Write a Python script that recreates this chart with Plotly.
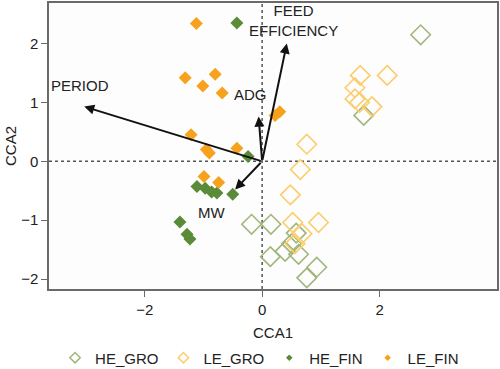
import plotly.graph_objects as go

# ---- data ----
he_gro_x = [2.70, 1.73, -0.18, 0.15, 0.14, 0.39, 0.50, 0.58, 0.62, 0.93, 0.76]
he_gro_y = [2.15, 0.78, -1.07, -1.07, -1.62, -1.53, -1.40, -1.22, -1.58, -1.80, -1.98]

le_gro_x = [1.67, 2.13, 1.58, 1.58, 1.66, 1.87, 0.76, 0.65, 0.48, 0.52, 0.96, 0.68, 0.56]
le_gro_y = [1.46, 1.46, 1.25, 1.06, 1.00, 0.93, 0.29, -0.14, -0.57, -1.04, -1.04, -1.23, -1.40]

he_fin_x = [-0.43, -0.24, -1.11, -0.97, -0.86, -0.77, -0.50, -1.40, -1.28, -1.23]
he_fin_y = [2.35, 0.08, -0.43, -0.46, -0.52, -0.54, -0.56, -1.03, -1.24, -1.32]

le_fin_x = [-1.12, -1.31, -0.80, -1.01, -0.68, -1.21, -0.95, -0.90, -0.43, 0.22, 0.30, -0.99, -0.74]
le_fin_y = [2.34, 1.42, 1.48, 1.28, 1.16, 0.45, 0.20, 0.14, 0.22, 0.78, 0.84, -0.26, -0.36]

arrow_names = ["PERIOD", "FEED<br>EFFICIENCY", "ADG", "MW"]
arrow_x = [-3.03, 0.42, -0.06, -0.46]
arrow_y = [0.93, 2.00, 0.76, -0.48]
label_x = [-3.10, 0.53, -0.20, -0.86]
label_y = [1.28, 2.39, 1.14, -0.87]

x_ticks = [-2, 0, 2]
y_ticks = [-2, -1, 0, 1, 2]

# ---- styles ----
C_HE_GRO = "#a2b67c"
C_LE_GRO = "#fbcd6c"
C_HE_FIN = "#5a8b39"
C_LE_FIN = "#f7a11c"
FONT = "Liberation Sans, Arial, sans-serif"
TXT = "#222222"

fig = go.Figure()

def add(xs, ys, name, color, size, open_):
    if open_:
        marker = dict(symbol="diamond-open", size=size, color=color, line=dict(color=color, width=1.6))
        lmarker = dict(symbol="diamond-open", size=8, color=color, line=dict(color=color, width=1.5))
    else:
        marker = dict(symbol="diamond", size=size, color=color, line=dict(width=0))
        lmarker = dict(symbol="diamond", size=5, color=color, line=dict(width=0))
    fig.add_trace(go.Scatter(x=xs, y=ys, mode="markers", name=name, marker=marker,
                             showlegend=False, hoverinfo="skip"))
    fig.add_trace(go.Scatter(x=[None], y=[None], mode="markers", name=name, marker=lmarker,
                             showlegend=True))

add(he_gro_x, he_gro_y, "HE_GRO", C_HE_GRO, 15, True)
add(le_gro_x, le_gro_y, "LE_GRO", C_LE_GRO, 15, True)
add(he_fin_x, he_fin_y, "HE_FIN", C_HE_FIN, 10, False)
add(le_fin_x, le_fin_y, "LE_FIN", C_LE_FIN, 10, False)

# dotted zero lines
fig.add_shape(type="line", xref="x", yref="paper", x0=0, x1=0, y0=0, y1=1,
              line=dict(color="#555555", width=1.5, dash="dot"), layer="below")
fig.add_shape(type="line", xref="paper", yref="y", x0=0, x1=1, y0=0, y1=0,
              line=dict(color="#555555", width=1.5, dash="dot"), layer="below")

# arrows
for ax_, ay_ in zip(arrow_x, arrow_y):
    fig.add_annotation(x=ax_, y=ay_, ax=0, ay=0, xref="x", yref="y", axref="x", ayref="y",
                       text="", showarrow=True, arrowhead=2, arrowsize=1, arrowwidth=2,
                       arrowcolor="#111111", standoff=0)
for t, lx, ly in zip(arrow_names, label_x, label_y):
    fig.add_annotation(x=lx, y=ly, xref="x", yref="y", text=t, showarrow=False,
                       font=dict(family=FONT, size=15, color=TXT), align="center")

axis_common = dict(showgrid=False, zeroline=False, showline=True, mirror=True,
                   linecolor="#6a6a6a", linewidth=1.5, ticks="outside", ticklen=6,
                   tickwidth=1.2, tickcolor="#6a6a6a", automargin=False,
                   tickfont=dict(family=FONT, size=15, color=TXT))

fig.update_xaxes(range=[-3.63, 4.0], tickvals=x_ticks, ticktext=["\u22122", "0", "2"],
                 title=dict(text="CCA1", font=dict(family=FONT, size=15, color=TXT), standoff=12),
                 **axis_common)
fig.update_yaxes(range=[-2.17, 2.69], tickvals=y_ticks,
                 ticktext=["\u22122", "\u22121", "0", "1", "2"],
                 title=dict(text="CCA2", font=dict(family=FONT, size=15, color=TXT), standoff=1),
                 **axis_common)

fig.update_layout(
    width=500, height=369,
    margin=dict(l=49, r=3, t=3, b=80, autoexpand=False),
    paper_bgcolor="white", plot_bgcolor="#fdfdfd",
    font=dict(family=FONT, size=15, color=TXT),
    legend=dict(orientation="h", x=0.47, xanchor="center", yref="container",
                y=0.03, yanchor="middle",
                font=dict(family=FONT, size=15, color=TXT),
                bgcolor="rgba(0,0,0,0)", itemwidth=30, tracegroupgap=0),
)

fig.write_html("out.html", config={"displayModeBar": False},
               post_script="document.body.style.margin='0';document.body.style.overflow='hidden';")
